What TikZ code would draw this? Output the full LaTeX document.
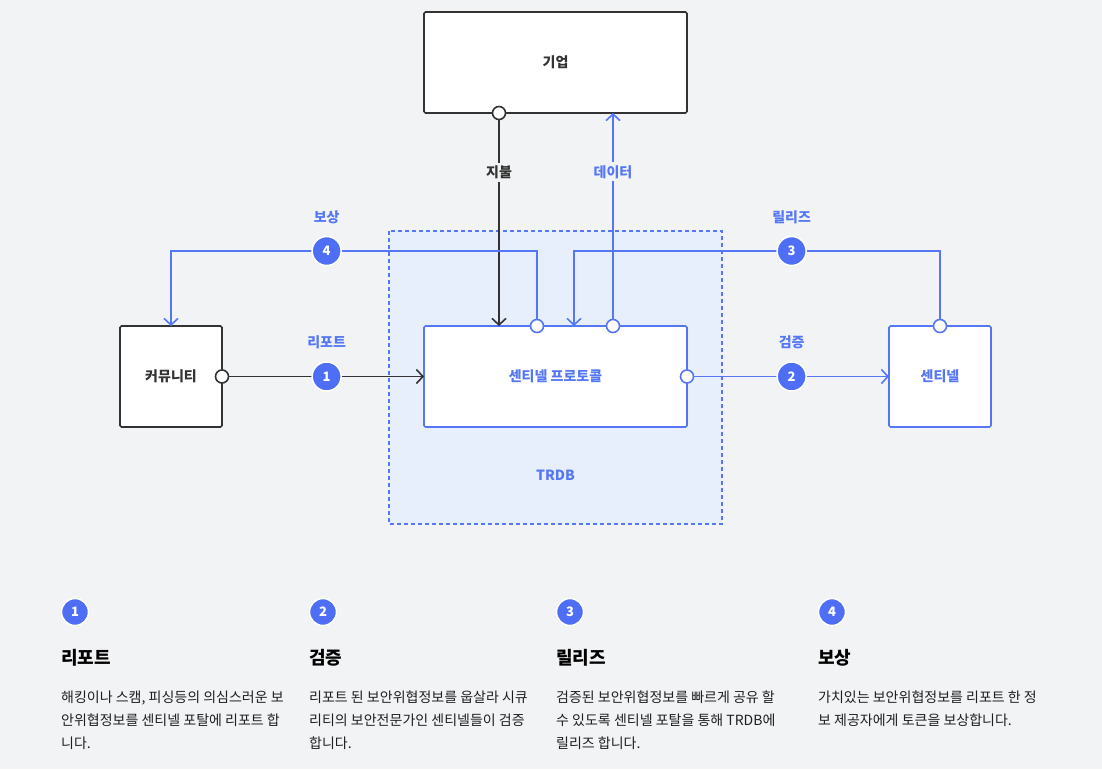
\documentclass[tikz,border=0pt]{standalone}
\usepackage{fontspec}
\setmainfont{Noto Sans CJK KR}
\usetikzlibrary{arrows.meta,positioning,calc}
\definecolor{bgc}{HTML}{F2F3F5}
\definecolor{pblue}{HTML}{4D6EF5}
\definecolor{lblue}{HTML}{5677F5}
\definecolor{trdbfill}{HTML}{E8EFFC}
\definecolor{ink}{HTML}{333333}
\tikzset{
    box/.style={draw=ink,line width=1.6pt,fill=white,rounded corners=1.5pt,minimum width=263pt,minimum height=101pt,inner sep=0pt,outer sep=0pt,font=\fontsize{14}{16}\selectfont\bfseries,text=ink},
    smallbox/.style={box,minimum width=102pt},
    bluebox/.style={draw=lblue,text=lblue},
    trdbbox/.style={draw=lblue,fill=trdbfill,line width=1.3pt,dash pattern=on 4pt off 3pt},
    port/.style={circle,draw=ink,fill=white,line width=1.6pt,minimum size=13pt,inner sep=0pt},
    blueport/.style={port,draw=lblue},
    badge/.style={circle,fill=pblue,draw=white,line width=1.5pt,minimum size=29pt,inner sep=0pt,text=white,font=\fontsize{13}{13}\selectfont\bfseries},
    flowlbl/.style={font=\fontsize{14}{16}\selectfont\bfseries,text=lblue,inner sep=3pt},
    darklbl/.style={flowlbl,text=ink},
    darkarr/.style={draw=ink,line width=1.6pt,-{Straight Barb[length=6.5pt,width=14pt]}},
    bluearr/.style={darkarr,draw=lblue},
    numbadge/.style={badge,minimum size=27pt},
    headtxt/.style={anchor=base west,inner sep=0pt,font=\fontsize{18}{20}\selectfont\bfseries,text=black},
    bodytxt/.style={anchor=north west,inner sep=0pt,align=left,font=\fontsize{14}{23}\selectfont,text=black!88}
}

\begin{document}
\begin{tikzpicture}[x=1pt,y=-1pt]
    \fill[bgc] (0,0) rectangle (1102,769);
    \useasboundingbox (0,0) rectangle (1102,769);

    % TRDB area
    \draw[trdbbox] (389,231) rectangle (722,524);
    \node[flowlbl] (trdb) at (555.5,475) {TRDB};

    % main boxes
    \node[box,bluebox] (protocol) at (555.5,376.5) {센티넬 프로토콜};
    \node[box,above=213pt of protocol] (corp) {기업};
    \node[smallbox,left=202pt of protocol] (community) {커뮤니티};
    \node[smallbox,bluebox,right=202pt of protocol] (sentinel) {센티넬};

    % ports
    \node[port] (payport) at ([xshift=-56.5pt]corp.south) {};
    \node[port] (reportport) at (community.east) {};
    \node[blueport] (rewardport) at ([xshift=-18.5pt]protocol.north) {};
    \node[blueport] (dataport) at ([xshift=57.5pt]protocol.north) {};
    \node[blueport] (verifyport) at (protocol.east) {};
    \node[blueport] (releaseport) at (sentinel.north) {};
    \coordinate (releasein) at ([xshift=18.5pt]protocol.north);

    % connectors
    \draw[darkarr] (payport) -- (payport |- protocol.north)
        node[darklbl,fill=bgc,pos=0.254] (paylbl) {지불};
    \draw[bluearr] (dataport) -- (dataport |- corp.south)
        node[flowlbl,fill=bgc,pos=0.714] (datalbl) {데이터};
    \draw[bluearr] (rewardport) -- ++(0,-75) -| (community.north);
    \draw[bluearr] (releaseport) -- ++(0,-75) -| (releasein);
    \draw[darkarr] (reportport) -- (protocol.west)
        node[badge,pos=0.5] (b1) {1};
    \draw[bluearr] (verifyport) -- (sentinel.west)
        node[badge,pos=0.5] (b2) {2};
    \node[badge] (b4) at (b1 |- 0,251) {4};
    \node[badge] (b3) at (b2 |- 0,251) {3};

    \node[flowlbl,above=9pt of b1] {리포트};
    \node[flowlbl,above=9pt of b2] {검증};
    \node[flowlbl,above=9pt of b3] {릴리즈};
    \node[flowlbl,above=9pt of b4] {보상};

    % legend
    \node[numbadge] (n1) at (75,612) {1};
    \node[numbadge] (n2) at (323,612) {2};
    \node[numbadge] (n3) at (570,612) {3};
    \node[numbadge] (n4) at (832,612) {4};

    \node[headtxt] (h1) at (61,664) {리포트};
    \node[headtxt] (h2) at (309,664) {검증};
    \node[headtxt] (h3) at (556,664) {릴리즈};
    \node[headtxt] (h4) at (818,664) {보상};

    \node[bodytxt] (t1) at (61,691) {해킹이나 스캠, 피싱등의 의심스러운 보\\안위협정보를 센티넬 포탈에 리포트 합\\니다.};
    \node[bodytxt] (t2) at (309,691) {리포트 된 보안위협정보를 웁살라 시큐\\리티의 보안전문가인 센티넬들이 검증\\합니다.};
    \node[bodytxt] (t3) at (556,691) {검증된 보안위협정보를 빠르게 공유 할\\수 있도록 센티넬 포탈을 통해 TRDB에\\릴리즈 합니다.};
    \node[bodytxt] (t4) at (818,691) {가치있는 보안위협정보를 리포트 한 정\\보 제공자에게 토큰을 보상합니다.};
\end{tikzpicture}
\end{document}
